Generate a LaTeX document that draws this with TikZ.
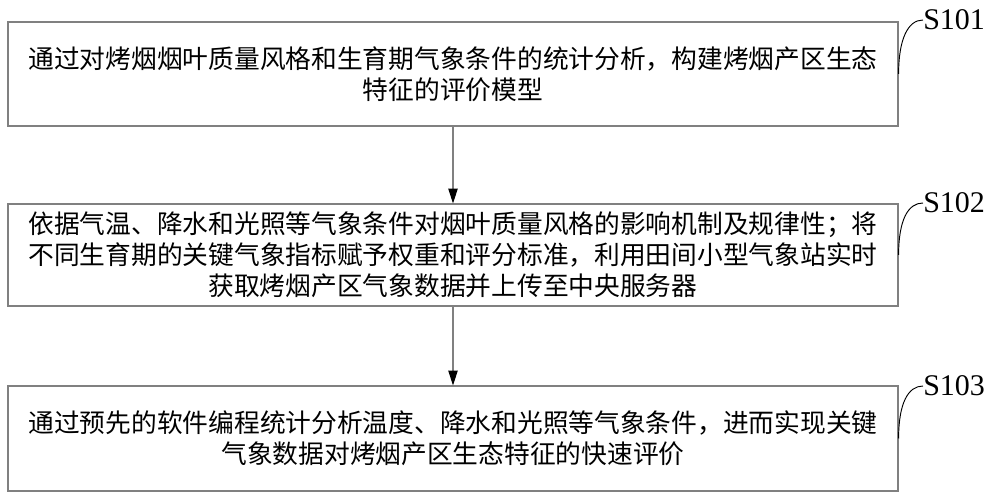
\documentclass[tikz,border=0pt]{standalone}
\usepackage{fontspec}
\setmainfont{Liberation Serif}
\newfontfamily\cjk{Noto Sans CJK SC}
\usetikzlibrary{arrows.meta}
\tikzset{
  stepbox/.style={draw=gray, line width=0.9pt, minimum width=667.5pt, inner sep=0pt,
    align=center, font=\cjk\fontsize{19.3}{23.3}\selectfont},
  tag/.style={anchor=west, inner sep=0pt, font=\fontsize{22.5}{24}\selectfont},
  flow/.style={draw=gray, line width=0.8pt, -{Triangle[black,length=11pt,width=7pt]}},
}
\begin{document}
\begin{tikzpicture}[x=0.75pt,y=-0.75pt]
\useasboundingbox (0,0) rectangle (1000,498);
\node[stepbox, minimum height=78pt] (b1) at (453,74) {通过对烤烟烟叶质量风格和生育期气象条件的统计分析，构建烤烟产区生态\\特征的评价模型};
\node[stepbox, minimum height=76.5pt] (b2) at (453,255) {依据气温、降水和光照等气象条件对烟叶质量风格的影响机制及规律性；将\\不同生育期的关键气象指标赋予权重和评分标准，利用田间小型气象站实时\\获取烤烟产区气象数据并上传至中央服务器};
\node[stepbox, minimum height=78.75pt] (b3) at (453,438.5) {通过预先的软件编程统计分析温度、降水和光照等气象条件，进而实现关键\\气象数据对烤烟产区生态特征的快速评价};
\draw[flow] (b1) -- (b2);
\draw[flow] (b2) -- (b3);
\node[tag] (s1) at (923,20) {S101};
\node[tag] (s2) at (923,203) {S102};
\node[tag] (s3) at (923,386) {S103};
\draw[line width=0.7pt] (b1.east) .. controls +(0,-35) and +(-15,0) .. (s1.west);
\draw[line width=0.7pt] (b2.east) .. controls +(0,-35) and +(-15,0) .. (s2.west);
\draw[line width=0.7pt] (b3.east) .. controls +(0,-35) and +(-15,0) .. (s3.west);
\end{tikzpicture}
\end{document}
